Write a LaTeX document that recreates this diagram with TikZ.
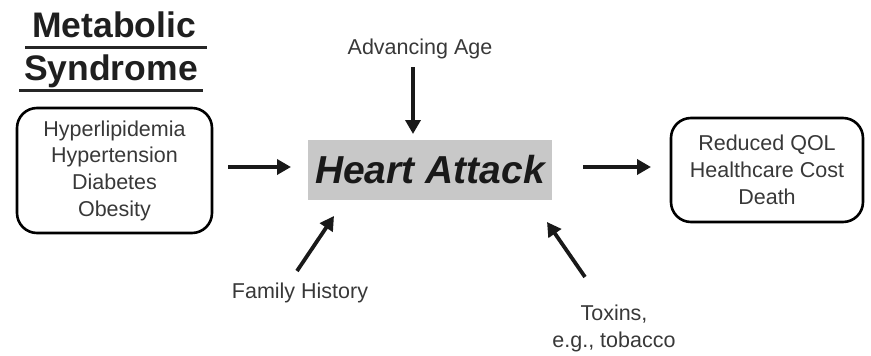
\documentclass[tikz,border=0pt]{standalone}
\usepackage{fontspec}
\setmainfont{Liberation Sans}
\usetikzlibrary{arrows.meta}
\definecolor{labelgray}{HTML}{383838}
\definecolor{boxgray}{HTML}{C8C8C8}
\begin{document}
\begin{tikzpicture}[x=1pt,y=-1pt,
  listbox/.style={draw=black, line width=2.6pt, rounded corners=20pt, align=center, text=labelgray, font=\fontsize{21.5}{26.7}\selectfont, inner sep=0pt},
  lbl/.style={text=labelgray, font=\fontsize{21.5}{27}\selectfont, align=center, inner sep=0pt},
  ttl/.style={font=\fontsize{35.5}{38}\selectfont\bfseries, inner sep=0pt, text=black!88},
  arr/.style={line width=3.8pt, -{Triangle[length=14pt,width=15pt]}, black!90}
]
\useasboundingbox (0,0) rectangle (871,356);
% title
\node[ttl, anchor=base] (t1) at (114,37) {Metabolic};
\node[ttl, anchor=base] (t2) at (111,80) {Syndrome};
\draw[line width=3pt, black!85] (25,47) -- (207,47);
\draw[line width=3pt, black!85] (19,90) -- (203,90);
% boxes
\node[listbox, minimum width=195pt, minimum height=125pt] (lb) at (114.5,170.5)
  {Hyperlipidemia\\Hypertension\\Diabetes\\Obesity};
\node[fill=boxgray, minimum width=244pt, minimum height=60pt, inner sep=0pt,
  font=\fontsize{39}{42}\selectfont\bfseries\itshape, text=black!90] (ha) at (430,170) {Heart Attack};
\node[listbox, minimum width=192pt, minimum height=104pt] (rb) at (767,170)
  {Reduced QOL\\Healthcare Cost\\Death};
% labels
\node[lbl] (age) at (420,49) {Advancing Age};
\node[lbl] (fam) at (300,293) {Family History};
\node[lbl] (tox) at (614,328) {Toxins,\\e.g., tobacco};
% arrow endpoints
\coordinate (a1s) at (228,167); \coordinate (a1e) at (291,167);
\coordinate (a2s) at (583,167); \coordinate (a2e) at (651,167);
\coordinate (a3s) at (413,67);  \coordinate (a3e) at (413,134);
\coordinate (a4s) at (297,271); \coordinate (a4e) at (334,216);
\coordinate (a5s) at (585,277); \coordinate (a5e) at (547,222);
\draw[arr] (a1s) -- (a1e);
\draw[arr] (a2s) -- (a2e);
\draw[arr] (a3s) -- (a3e);
\draw[arr] (a4s) -- (a4e);
\draw[arr] (a5s) -- (a5e);
\end{tikzpicture}
\end{document}
